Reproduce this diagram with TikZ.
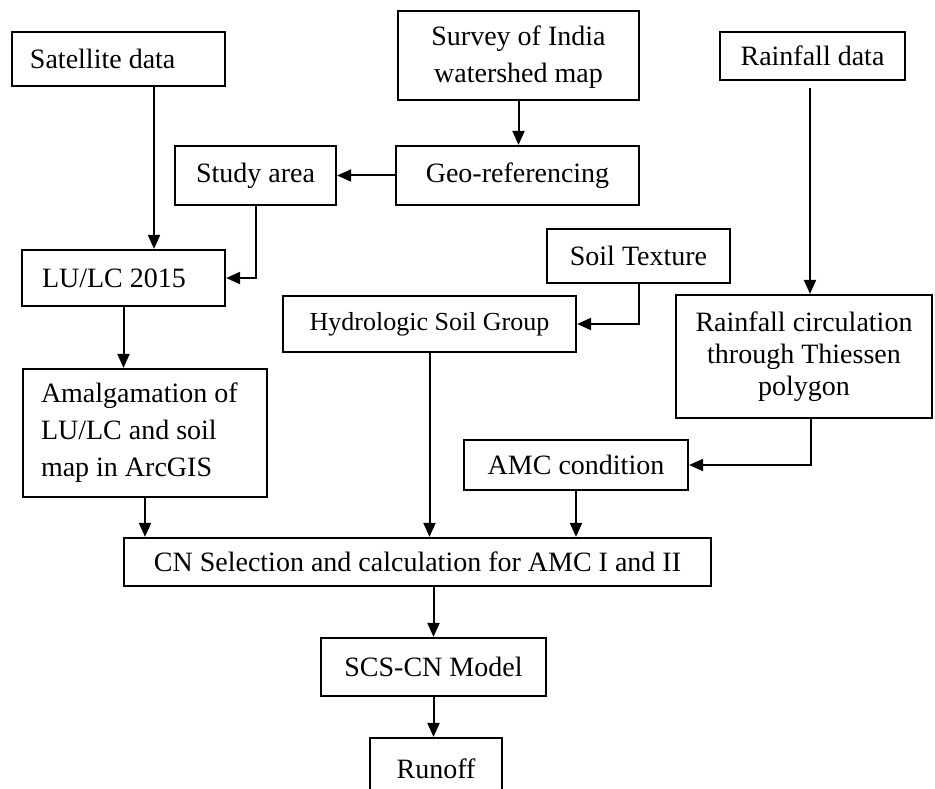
\documentclass[tikz,border=0pt]{standalone}
\usepackage{fontspec}
\setmainfont{Liberation Serif}
\usetikzlibrary{arrows.meta,calc,positioning}

\begin{document}
\begin{tikzpicture}[x=1pt,y=-1pt,
  blk/.style={draw,line width=2.2pt,inner sep=0pt,align=center,font=\fontsize{28}{37}\selectfont},
  arr/.style={line width=2pt,-{Triangle[length=14pt,width=12pt]}}]
\clip (0,0) rectangle (935,789);
\fill[white] (0,0) rectangle (935,789);
\node[blk,minimum width=213pt,minimum height=54pt,text width=177pt,align=flush left] (sat) at (118.5,59) {Satellite data};
\node[blk,minimum width=241pt,minimum height=89pt,text depth=3pt] (survey) at (518.5,55.5) {Survey of India\\watershed map};
\node[blk,minimum width=185pt,minimum height=48pt] (rain) at (812.5,56) {Rainfall data};
\node[blk,minimum width=161pt,minimum height=59pt] (study) at (255.5,175.5) {Study area};
\node[blk,minimum width=243pt,minimum height=59pt] (geo) at (517.5,175.5) {Geo-referencing};
\node[blk,minimum width=203pt,minimum height=56pt,text width=163pt,align=flush left] (lulc) at (123.5,278) {LU/LC 2015};
\node[blk,minimum width=183pt,minimum height=54pt] (soil) at (638.5,256) {Soil Texture};
\node[blk,minimum width=293pt,minimum height=56pt,font=\fontsize{26}{32}\selectfont] (hsg) at (429.5,324) {Hydrologic Soil Group};
\node[blk,minimum width=256pt,minimum height=123pt,font=\fontsize{28}{32}\selectfont] (rcirc) at (804,356.5) {Rainfall circulation\\through Thiessen\\polygon};
\node[blk,minimum width=244pt,minimum height=128pt,text width=208pt,align=flush left] (amal) at (145,433) {Amalgamation of\\LU/LC and soil\\map in ArcGIS};
\node[blk,minimum width=224pt,minimum height=50pt] (amc) at (576,465) {AMC condition};
\node[blk,minimum width=587pt,minimum height=48pt] (cn) at (417.5,562) {CN Selection and calculation for AMC I and II};
\node[blk,minimum width=225pt,minimum height=58pt] (scs) at (433.5,667) {SCS-CN Model};
\node[blk,minimum width=132pt,minimum height=62pt] (runoff) at (436,769) {Runoff};

\draw[arr] ([xshift=35.5pt]sat.south) -- ([xshift=35.5pt]sat.south |- lulc.north);
\draw[arr] (survey.south) -- (survey.south |- geo.north);
\draw[arr] (geo.west) -- (study.east);
\draw[arr] (study.south) |- (lulc.east);
\draw[arr] ([xshift=-2.5pt,yshift=-7pt]rain.south) -- ([xshift=-2.5pt]rain.south |- rcirc.north);
\draw[arr] (soil.south) |- (hsg.east);
\draw[arr] (lulc.south) -- (lulc.south |- amal.north);
\draw[arr] ([xshift=7pt]rcirc.south) |- (amc.east);
\draw[arr] (amal.south) -- (amal.south |- cn.north);
\draw[arr] (hsg.south) -- (hsg.south |- cn.north);
\draw[arr] (amc.south) -- (amc.south |- cn.north);
\draw[arr] (scs.north |- cn.south) -- (scs.north);
\draw[arr] (scs.south) -- (scs.south |- runoff.north);
\end{tikzpicture}
\end{document}
